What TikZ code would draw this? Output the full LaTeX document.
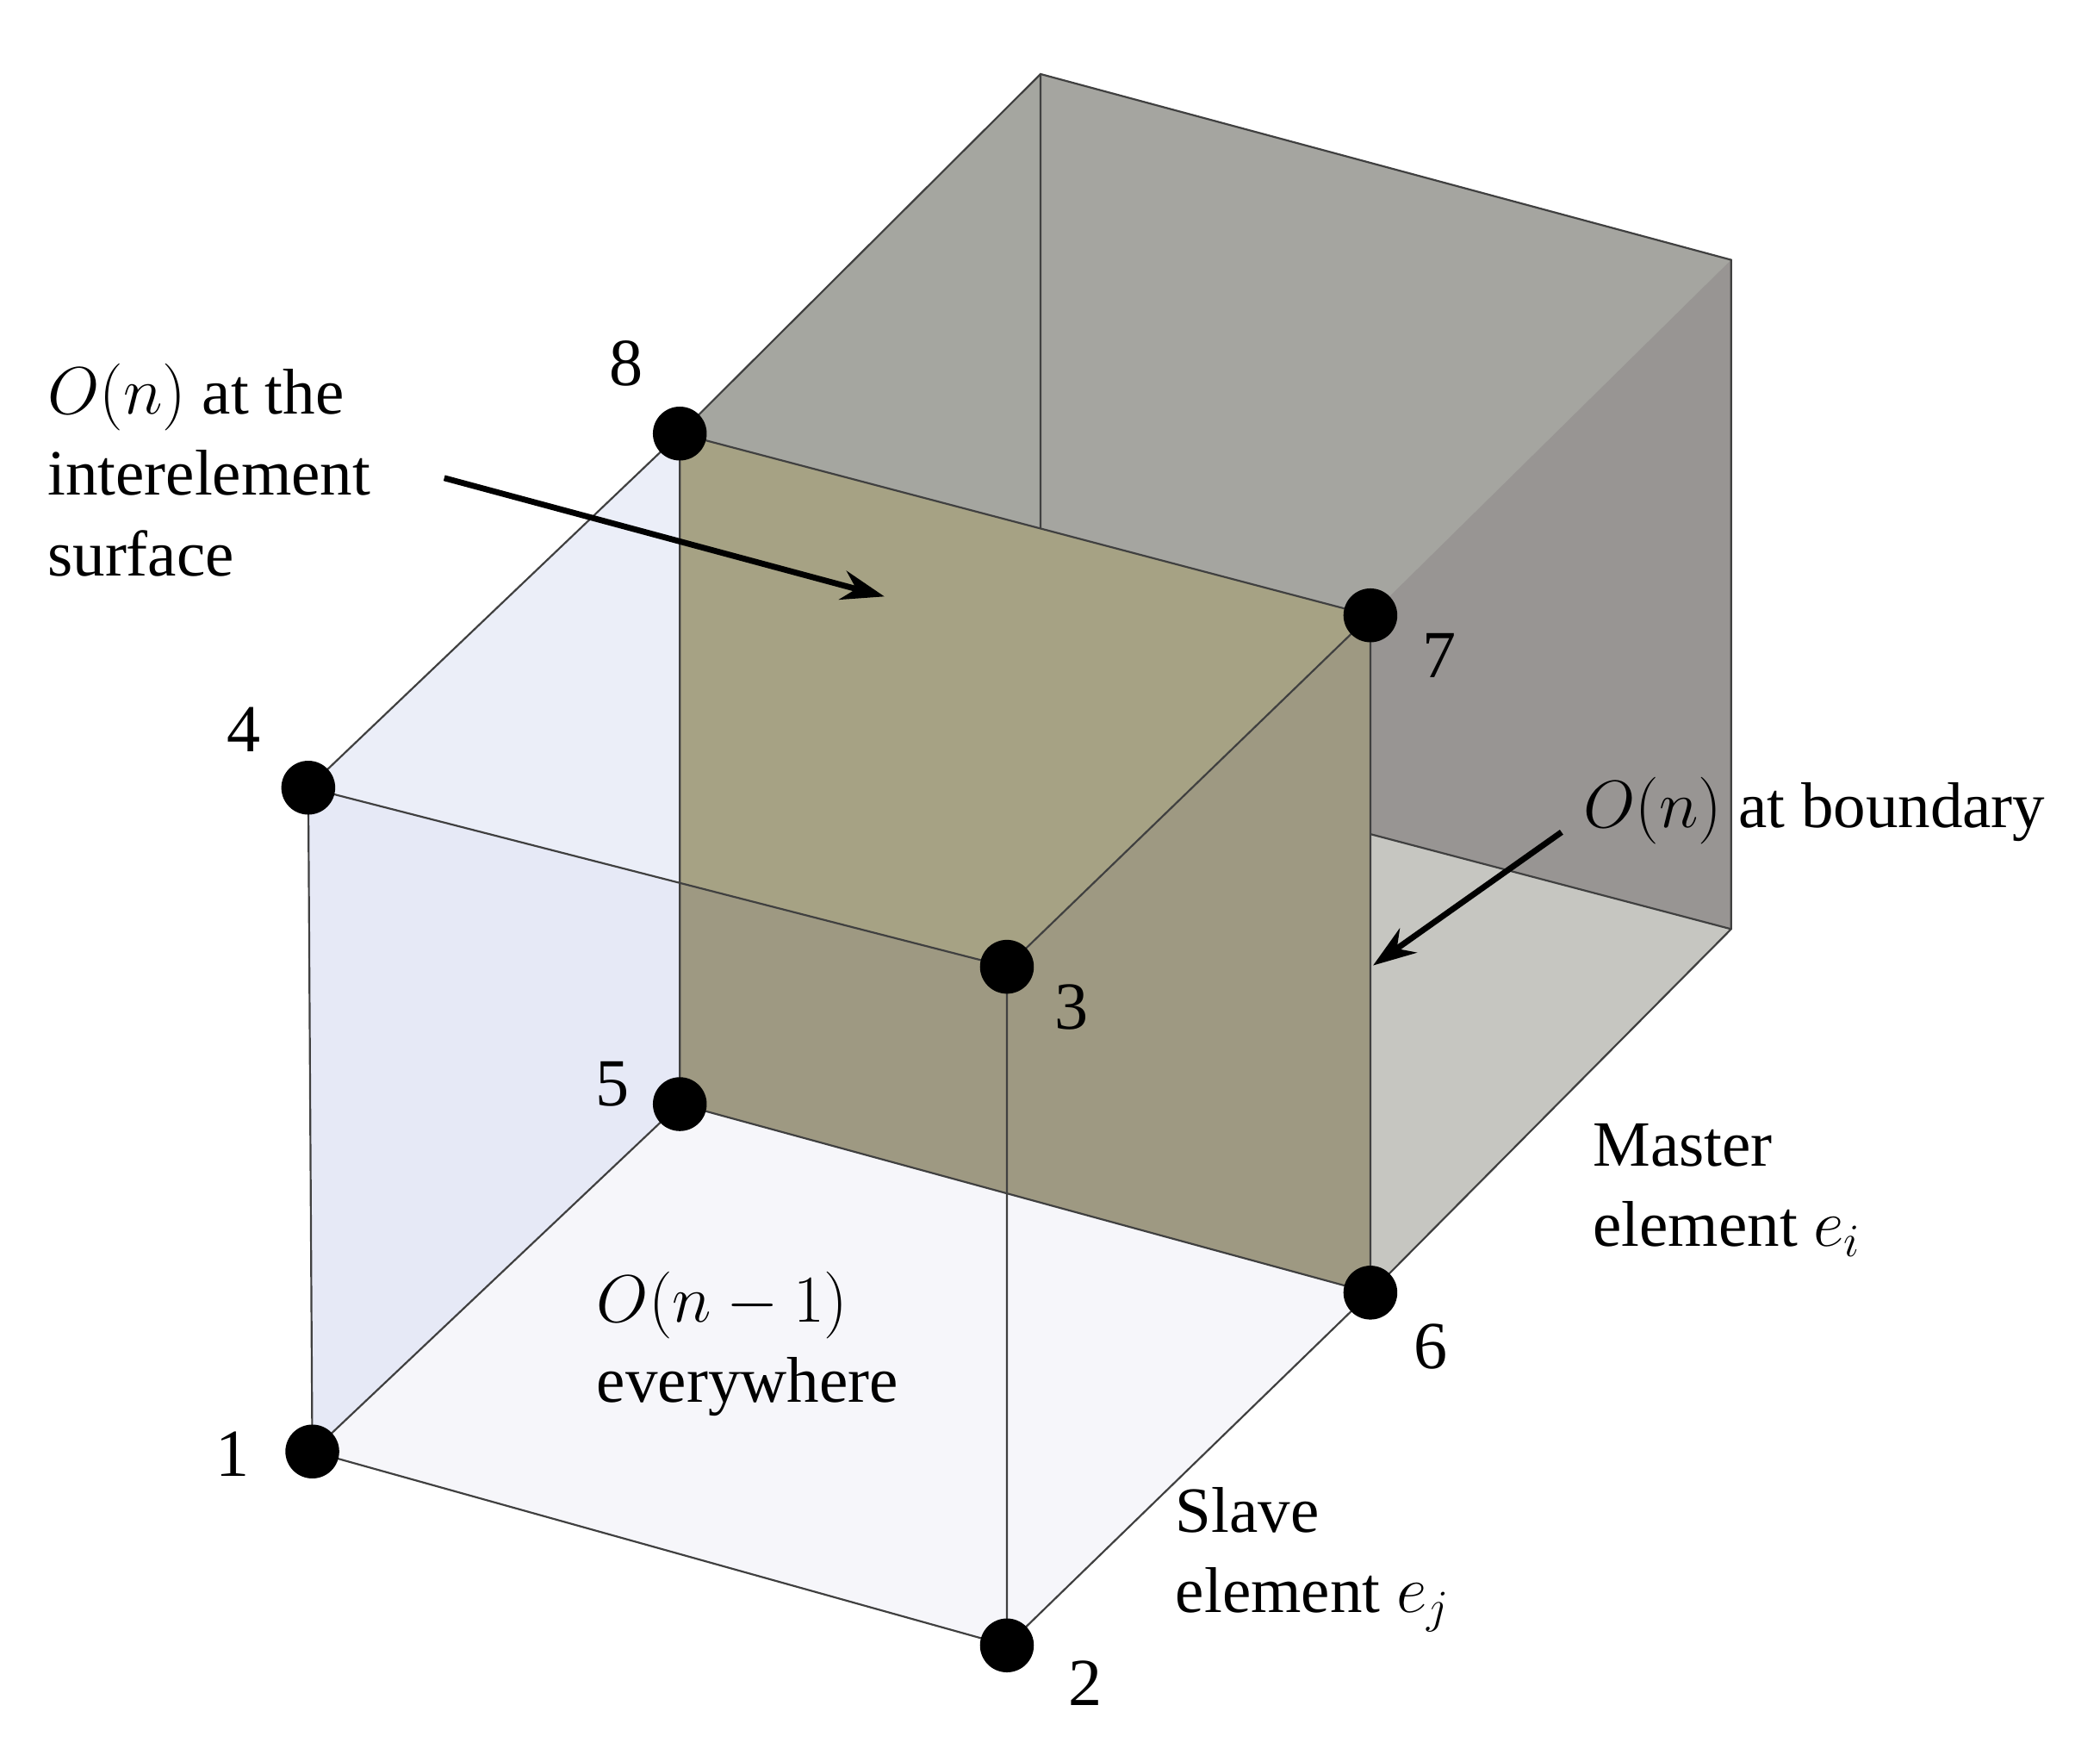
\documentclass[tikz,border=0pt]{standalone}
\usepackage{fontspec}
\setmainfont{Liberation Serif}
\usetikzlibrary{arrows.meta,calc}
\begin{document}
\begin{tikzpicture}[x=0.5pt,y=-0.5pt,
  edge/.style={draw=black!75,line width=0.7pt},
  dot/.style={circle,fill=black,minimum size=20pt,inner sep=0pt},
  lbl/.style={font=\fontsize{25}{28}\selectfont,inner sep=0pt},
  txt/.style={font=\fontsize{24}{30}\selectfont,align=left,inner sep=0pt,anchor=north west},
  arr/.style={-{Stealth[length=16pt,width=11pt]},line width=2.2pt}]
\useasboundingbox (0,0) rectangle (1560,1303);
\coordinate (p1) at (232,1078); \coordinate (p2) at (748,1222);
\coordinate (p3) at (748,718);  \coordinate (p4) at (229,585);
\coordinate (p5) at (505,820);  \coordinate (p6) at (1018,960);
\coordinate (p7) at (1018,457); \coordinate (p8) at (505,322);
\coordinate (b5) at (773,555);  \coordinate (b6) at (1286,690);
\coordinate (b7) at (1286,193); \coordinate (b8) at (773,55);
% master element
\fill[color={rgb,255:red,168;green,170;blue,162}] (p8)--(b8)--(b7)--(p7)--cycle;
\fill[color={rgb,255:red,165;green,166;blue,160}] (p8)--(b8)--(b5)--(p5)--cycle;
\fill[color={rgb,255:red,165;green,165;blue,160}] (b8)--(b7)--(b6)--(b5)--cycle;
\fill[color={rgb,255:red,152;green,149;blue,147}] (p7)--(b7)--(b6)--(p6)--cycle;
\fill[color={rgb,255:red,198;green,198;blue,193}] (p5)--(b5)--(b6)--(p6)--cycle;
\draw[edge] (b8)--(b5)--(b6);
% slave element
\fill[color={rgb,255:red,230;green,233;blue,246}] (p1)--(p4)--(p8)--(p5)--cycle;
\fill[color={rgb,255:red,235;green,238;blue,248}] (p4)--(p3)--(p7)--(p8)--cycle;
\fill[color={rgb,255:red,246;green,246;blue,250}] (p1)--(p2)--(p6)--(p5)--cycle;
% interelement surface
\fill[color={rgb,255:red,166;green,162;blue,132}] (p5)--(p6)--(p7)--(p8)--cycle;
\fill[color={rgb,255:red,158;green,153;blue,130}] (p5)--(p6)--(p7)--(p3)--($(p4)!0.532!(p3)$)--cycle;
\draw[edge] (p8)--(b8)--(b7)--(b6)--(p6);
\draw[edge] (p1)--(p2)--(p3)--(p4)--cycle;
\draw[edge] (p4)--(p8) (p3)--(p7) (p2)--(p6) (p1)--(p5);
\draw[edge] (p5)--(p6)--(p7)--(p8)--cycle;
\foreach \i in {1,...,8} \node[dot] (n\i) at (p\i) {};
\node[lbl] (l8) at (465,270) {8};
\node[lbl] (l4) at (181,542) {4};
\node[lbl] (l5) at (455,805) {5};
\node[lbl] (l3) at (796,748) {3};
\node[lbl] (l7) at (1069,487) {7};
\node[lbl] (l6) at (1063,1000) {6};
\node[lbl] (l1) at (173,1080) {1};
\node[lbl] (l2) at (806,1250) {2};
\node[txt] (t1) at (35,270) {$O(n)$ at the\\interelement\\surface};
\node[txt,anchor=west] (t2) at (1176,602) {$O(n)$ at boundary};
\node[txt] (t3) at (1183,834) {Master\\element $e_i$};
\node[txt] (t4) at (873,1104) {Slave\\element $e_j$};
\node[txt] (t5) at (443,944) {$O(n-1)$\\everywhere};
\coordinate (a1s) at (330,355); \coordinate (a1e) at (657,443);
\coordinate (a2s) at (1160,618); \coordinate (a2e) at (1020,717);
\draw[arr] (a1s)--(a1e);
\draw[arr] (a2s)--(a2e);
\end{tikzpicture}
\end{document}
